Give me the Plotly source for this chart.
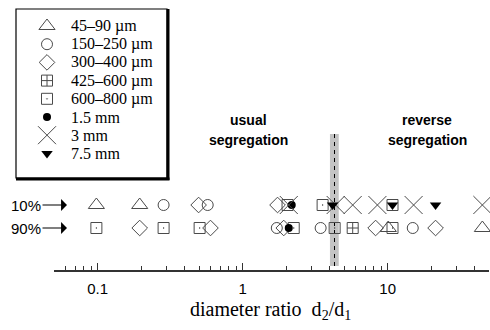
import plotly.graph_objects as go
import math

# ---------------- data ----------------
series_names = ["45\u201390 \u00b5m", "150\u2013250 \u00b5m", "300\u2013400 \u00b5m", "425\u2013600 \u00b5m",
                "600\u2013800 \u00b5m", "1.5 mm", "3 mm", "7.5 mm"]
# diameter ratios d2/d1 where the 10% and 90% criteria are met
ratio_10 = [
    [0.098, 0.195],                   # 45-90 um
    [0.285, 0.574],                   # 150-250 um
    [0.497, 1.74],                    # 300-400 um
    [],                               # 425-600 um
    [2.04, 3.56, 10.8],               # 600-800 um
    [2.18],                           # 1.5 mm
    [2.08, 4.38, 5.74, 8.5, 15.1, 45.0],  # 3 mm
    [4.17, 10.8, 21.4],               # 7.5 mm
]
ratio_90 = [
    [10.1, 45.0],
    [1.72, 3.45, 14.9],
    [0.195, 0.60, 1.92, 8.26, 21.4],
    [5.74],
    [0.098, 0.285, 0.505, 2.25, 4.31, 10.8],
    [2.08],
    [],
    [],
]
row_labels = ["10%", "90%"]
row_values = [1, 0]
band_lo, band_hi, critical_ratio = 4.0, 4.6, 4.3
tick_vals = [0.1, 1, 10]
tick_text = ["0.1", "1", "10"]
minor_vals = [0.05, 0.06, 0.07, 0.08, 0.09, 0.2, 0.3, 0.4, 0.5, 0.6, 0.7, 0.8, 0.9,
              2, 3, 4, 5, 6, 7, 8, 9, 20, 30, 40]

# ---------------- styles ----------------
GRAY = "#4a4a4a"
styles = [
    dict(symbol="triangle-up-open", size=14, color=GRAY, line=dict(color=GRAY, width=1)),
    dict(symbol="circle-open", size=11, color=GRAY, line=dict(color=GRAY, width=1)),
    dict(symbol="diamond-open", size=12, color=GRAY, line=dict(color=GRAY, width=1)),
    dict(symbol="square-cross-open", size=11, color=GRAY, line=dict(color=GRAY, width=1)),
    dict(symbol="square-open-dot", size=11, color=GRAY, line=dict(color=GRAY, width=1)),
    dict(symbol="circle", size=8, color="black", line=dict(color="black", width=0)),
    dict(symbol="x-thin-open", size=18, color=GRAY, line=dict(color=GRAY, width=1)),
    dict(symbol="triangle-down", size=10, color="black", line=dict(color="black", width=0)),
]

W, H = 490, 330
AX_LEFT, AX_RIGHT, AX_Y, TOP = 54, 489, 270, 10
ROW10_Y, ROW90_Y = 205, 228
px_per_unit = ROW90_Y - ROW10_Y
y_bottom = -(AX_Y - ROW90_Y) / px_per_unit
y_top = 1 + (ROW10_Y - TOP) / px_per_unit

fig = go.Figure()

def px_to_y(py):
    return (ROW90_Y - py) / px_per_unit

# band and critical line
fig.add_shape(type="rect", xref="x", yref="y", x0=band_lo, x1=band_hi,
              y0=px_to_y(266), y1=px_to_y(134), fillcolor="#c4c4c4", line=dict(width=0), layer="below")
fig.add_shape(type="line", xref="x", yref="y", x0=critical_ratio, x1=critical_ratio,
              y0=px_to_y(266), y1=px_to_y(134), line=dict(color="black", width=1, dash="4px,4px"), layer="below")

for name, st, r10, r90 in zip(series_names, styles, ratio_10, ratio_90):
    xs = r10 + r90
    ys = [row_values[0]] * len(r10) + [row_values[1]] * len(r90)
    if not xs:
        continue
    fig.add_trace(go.Scatter(x=xs, y=ys, mode="markers", name=name, showlegend=False,
                             marker=st, xaxis="x", yaxis="y", cliponaxis=False))

# ---------------- custom legend (full-figure axes in pixel units) ----------------
LEG_SYM_X, LEG_TXT_X, LEG_Y0, LEG_DY = 47, 69, 26, 18.2
leg_y = [LEG_Y0 + i * LEG_DY for i in range(len(series_names))]
for i, (name, st) in enumerate(zip(series_names, styles)):
    fig.add_trace(go.Scatter(x=[LEG_SYM_X], y=[leg_y[i]], mode="markers", marker=st,
                             xaxis="x2", yaxis="y2", showlegend=False, hoverinfo="skip", cliponaxis=False))
    fig.add_annotation(x=LEG_TXT_X, y=leg_y[i], xref="x2", yref="y2", text=name, showarrow=False,
                       xanchor="left", yanchor="middle",
                       font=dict(family="Liberation Serif, Times New Roman, serif", size=16, color="black"))

# legend box with heavy shadow edges
fig.add_shape(type="rect", xref="x2", yref="y2", x0=16, x1=167, y0=9, y1=178,
              line=dict(color="black", width=1.2), fillcolor="rgba(0,0,0,0)")
fig.add_shape(type="line", xref="x2", yref="y2", x0=168, x1=168, y0=9, y1=180,
              line=dict(color="black", width=3))
fig.add_shape(type="line", xref="x2", yref="y2", x0=16, x1=169.5, y0=179, y1=179,
              line=dict(color="black", width=3))

# row labels with arrows
for lab, ry in zip(row_labels, [ROW10_Y, ROW90_Y]):
    fig.add_annotation(x=67, y=ry, xref="x2", yref="y2", ax=-41, ay=0, axref="pixel", ayref="pixel",
                       text=lab, showarrow=True, arrowhead=1, arrowsize=1.8, arrowwidth=1.1,
                       arrowcolor="black", standoff=0,
                       font=dict(family="Liberation Sans, Arial, sans-serif", size=15, color="black"))

# regime labels
bold_font = dict(family="Liberation Sans, Arial, sans-serif", size=14, color="black")
for cx, lines in [(248, ["usual", "segregation"]), (427, ["reverse", "segregation"])]:
    for j, t in enumerate(lines):
        fig.add_annotation(x=cx, y=120 + 20 * j, xref="x2", yref="y2", text="<b>" + t + "</b>",
                           showarrow=False, xanchor="center", yanchor="middle", font=bold_font)

# axis title
fig.add_annotation(x=270, y=310, xref="x2", yref="y2",
                   text="diameter ratio  d<sub>2</sub>/d<sub>1</sub>", showarrow=False,
                   xanchor="center", yanchor="middle",
                   font=dict(family="Liberation Serif, Times New Roman, serif", size=20, color="black"))

fig.update_layout(
    width=W, height=H, margin=dict(l=0, r=0, t=0, b=0),
    paper_bgcolor="white", plot_bgcolor="rgba(0,0,0,0)", showlegend=False,
    xaxis=dict(type="log", range=[math.log10(0.05), math.log10(50)],
               domain=[AX_LEFT / W, AX_RIGHT / W], anchor="y",
               showgrid=False, zeroline=False, showline=True, linecolor="#333", linewidth=1.5,
               ticks="inside", ticklen=7, tickwidth=1.2, tickcolor="#333",
               tickmode="array", tickvals=tick_vals, ticktext=tick_text, ticklabelstandoff=4,
               tickfont=dict(family="Liberation Sans, Arial, sans-serif", size=15, color="black"),
               minor=dict(tickmode="array", tickvals=minor_vals, ticks="inside", ticklen=4,
                          tickwidth=1, tickcolor="#333", showgrid=False)),
    yaxis=dict(range=[y_bottom, y_top], domain=[(H - AX_Y) / H, (H - TOP) / H], anchor="x",
               visible=False, showgrid=False, zeroline=False),
    xaxis2=dict(range=[0, W], domain=[0, 1], visible=False, anchor="y2", fixedrange=True),
    yaxis2=dict(range=[H, 0], domain=[0, 1], visible=False, anchor="x2", fixedrange=True),
)

fig.write_html("out.html")
